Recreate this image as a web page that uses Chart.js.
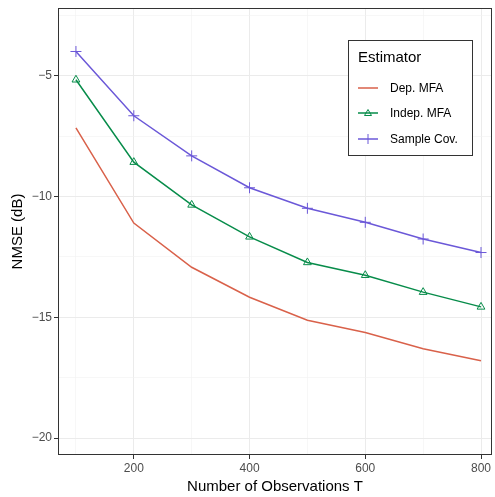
<!DOCTYPE html>
<html>
<head>
<meta charset="utf-8">
<script src="https://cdn.jsdelivr.net/npm/chart.js@4"></script>
<style>
  html, body { margin: 0; padding: 0; background: #fff; }
  #wrap { width: 495px; height: 497px; }
</style>
</head>
<body>
<div id="wrap"><canvas id="grafico" width="495" height="497"></canvas></div>
<script>
// dados
var observations = [100, 200, 300, 400, 500, 600, 700, 800];
var depMFA = [-7.16, -11.1, -12.93, -14.17, -15.12, -15.63, -16.3, -16.8];
var indepMFA = [-5.17, -8.58, -10.35, -11.67, -12.73, -13.26, -13.96, -14.57];
var sampleCov = [-4.0, -6.66, -8.32, -9.64, -10.49, -11.07, -11.76, -12.32];
var seriesNames = ['Dep. MFA', 'Indep. MFA', 'Sample Cov.'];
var xTicks = [100, 200, 300, 400, 500, 600, 700, 800];
var yTicks = [-20, -17.5, -15, -12.5, -10, -7.5, -5, -2.5];

var cores = ['#D9614A', '#078C4A', '#6B58D8'];
var fonte = 'Liberation Sans, Arial, sans-serif';

function pts(vals) {
    return observations.map(function (x, i) { return { x: x, y: vals[i] }; });
}

// painel + legenda estilo ggplot
var painel = {
    id: 'painel',
    afterDraw: function (chart) {
        var c = chart.ctx, a = chart.chartArea;
        c.save();
        c.strokeStyle = '#333333';
        c.lineWidth = 1;
        c.strokeRect(a.left + 0.5, a.top + 0.5, a.right - a.left - 1, a.bottom - a.top - 1);

        // legenda
        var lx = 348, ly = 40, lw = 124, lh = 115;
        c.fillStyle = '#ffffff';
        c.fillRect(lx, ly, lw, lh);
        c.strokeRect(lx + 0.5, ly + 0.5, lw, lh);
        c.fillStyle = '#000';
        c.font = '15px ' + fonte;
        c.textBaseline = 'middle';
        c.fillText('Estimator', 358, 58);
        c.font = '12px ' + fonte;
        var rows = [88, 113, 139];
        chart.data.datasets.forEach(function (ds, i) {
            var y = rows[i];
            c.strokeStyle = ds.borderColor;
            c.lineWidth = 1.5;
            c.beginPath();
            c.moveTo(358, y);
            c.lineTo(378, y);
            c.stroke();
            if (ds.pointStyle === 'triangle') {
                c.beginPath();
                c.moveTo(368, y - 3.5);
                c.lineTo(371.5, y + 2.5);
                c.lineTo(364.5, y + 2.5);
                c.closePath();
                c.lineWidth = 1;
                c.stroke();
            } else if (ds.pointStyle === 'cross') {
                c.beginPath();
                c.moveTo(368, y - 5);
                c.lineTo(368, y + 5);
                c.lineWidth = 1;
                c.stroke();
            }
            c.fillStyle = '#000';
            c.fillText(ds.label, 390, y + 1);
        });
        c.restore();
    }
};

var ctx = document.getElementById('grafico');
var myChart = new Chart(ctx, {
    type: 'line',
    data: {
        datasets: [
            {
                label: seriesNames[0],
                data: pts(depMFA),
                borderColor: cores[0],
                borderWidth: 1.5,
                pointRadius: 0,
                pointStyle: false,
                fill: false
            },
            {
                label: seriesNames[1],
                data: pts(indepMFA),
                borderColor: cores[1],
                borderWidth: 1.5,
                pointStyle: 'triangle',
                pointRadius: 4.5,
                pointBorderColor: cores[1],
                pointBackgroundColor: 'rgba(0,0,0,0)',
                pointBorderWidth: 1,
                fill: false
            },
            {
                label: seriesNames[2],
                data: pts(sampleCov),
                borderColor: cores[2],
                borderWidth: 1.5,
                pointStyle: 'cross',
                pointRadius: 5.5,
                pointBorderColor: cores[2],
                pointBorderWidth: 1,
                fill: false
            }
        ]
    },
    options: {
        responsive: false,
        animation: false,
        layout: { autoPadding: false, padding: { top: 8, right: 3, left: 0, bottom: 0 } },
        plugins: {
            legend: { display: false },
            tooltip: { enabled: false }
        },
        scales: {
            x: {
                type: 'linear',
                min: 69,
                max: 819,
                afterBuildTicks: function (s) { s.ticks = xTicks.map(function (v) { return { value: v }; }); },
                afterFit: function (s) { s.height = 42; s.paddingLeft = 0; s.paddingRight = 0; },
                border: { display: false },
                grid: {
                    color: function (c) { return c.tick.value % 200 === 0 ? '#EBEBEB' : '#F2F2F2'; },
                    lineWidth: function (c) { return c.tick.value % 200 === 0 ? 1 : 0.6; },
                    tickColor: function (c) { return c.tick.value % 200 === 0 ? '#333333' : 'rgba(0,0,0,0)'; },
                    tickLength: 4
                },
                ticks: {
                    padding: 2,
                    color: '#4D4D4D',
                    font: { family: fonte, size: 12 },
                    maxRotation: 0,
                    autoSkip: false,
                    callback: function (v) { return v % 200 === 0 ? String(v) : ''; }
                },
                title: {
                    display: true,
                    text: 'Number of Observations T',
                    color: '#000',
                    font: { family: fonte, size: 15 },
                    padding: { top: 1, bottom: 1 }
                }
            },
            y: {
                min: -20.7,
                max: -2.2,
                afterBuildTicks: function (s) { s.ticks = yTicks.map(function (v) { return { value: v }; }); },
                afterFit: function (s) { s.width = 58; s.paddingTop = 0; s.paddingBottom = 0; },
                border: { display: false },
                grid: {
                    color: function (c) { return c.tick.value % 5 === 0 ? '#EBEBEB' : '#F2F2F2'; },
                    lineWidth: function (c) { return c.tick.value % 5 === 0 ? 1 : 0.6; },
                    tickColor: function (c) { return c.tick.value % 5 === 0 ? '#333333' : 'rgba(0,0,0,0)'; },
                    tickLength: 4
                },
                ticks: {
                    padding: 2,
                    color: '#4D4D4D',
                    font: { family: fonte, size: 12 },
                    autoSkip: false,
                    callback: function (v) { return v % 5 === 0 ? String(v).replace('-', '\u2212') : ''; }
                },
                title: {
                    display: true,
                    text: 'NMSE (dB)',
                    color: '#000',
                    font: { family: fonte, size: 15 },
                    padding: { top: 9, bottom: 0 }
                }
            }
        }
    },
    plugins: [painel]
});
</script>
</body>
</html>
